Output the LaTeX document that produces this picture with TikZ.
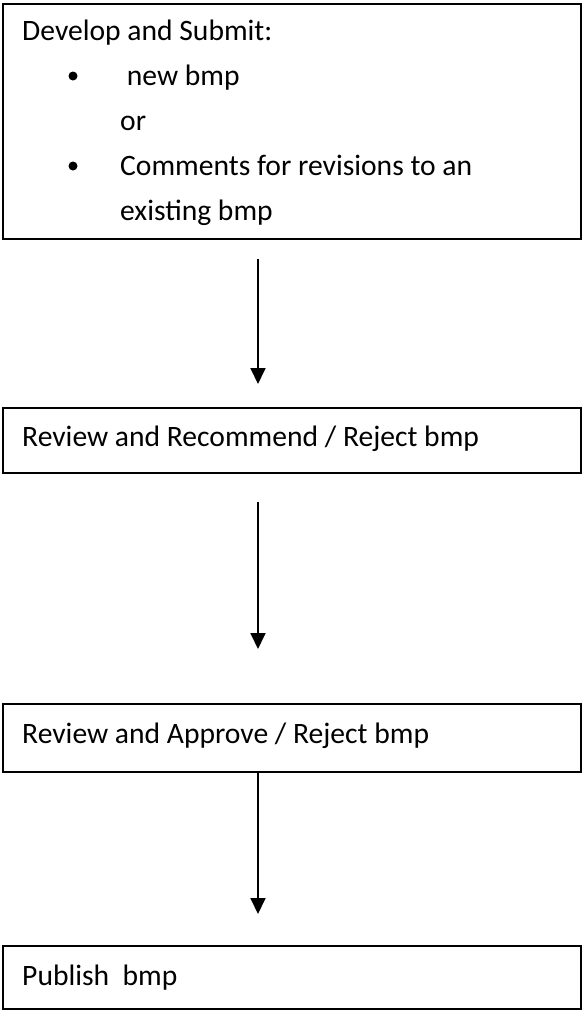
\documentclass[tikz,border=0pt]{standalone}
\usepackage{fontspec}
\setmainfont{Carlito}
\usetikzlibrary{arrows.meta}
\begin{document}
\begin{tikzpicture}[x=1pt,y=-1pt,
  stepbox/.style={draw=black,line width=1.6pt,rectangle,inner sep=0pt,minimum width=578pt,anchor=north west},
  txt/.style={anchor=base west,inner sep=0pt,font=\fontsize{29.6}{34}\selectfont},
  bul/.style={circle,fill=black,inner sep=0pt,minimum size=9pt},
  arr/.style={line width=1.8pt,-{Triangle[length=16pt,width=15pt]}}]
\useasboundingbox (0,0) rectangle (582,1010);
% boxes
\node[stepbox,minimum height=235pt] (b1) at (2,3) {};
\node[stepbox,minimum height=65pt] (b2) at (2,407) {};
\node[stepbox,minimum height=68pt] (b3) at (2,703) {};
\node[stepbox,minimum height=63pt] (b4) at (2,945) {};
% box 1 text
\node[txt] (t1) at (22,40) {Develop and Submit:};
\node[bul] (u1) at (73,76) {};
\node[txt] (t2) at (120,85) {\ new bmp};
\node[txt] (t3) at (120,130) {or};
\node[bul] (u2) at (73,166) {};
\node[txt] (t4) at (120,175) {Comments for revisions to an};
\node[txt] (t5) at (120,220) {existing bmp};
% other texts
\node[txt] (t6) at (22,446) {Review and Recommend / Reject bmp};
\node[txt] (t7) at (22,743) {Review and Approve / Reject bmp};
\node[txt] (t8) at (22,985) {Publish\ \ bmp};
% arrows
\coordinate (a1s) at (258,259);
\coordinate (a1e) at (258,384);
\coordinate (a2s) at (258,502);
\coordinate (a2e) at (258,649);
\coordinate (a3e) at (258,914);
\draw[arr] (a1s) -- (a1e);
\draw[arr] (a2s) -- (a2e);
\draw[arr] (b3.south west -| a3e) -- (a3e);
\end{tikzpicture}
\end{document}
